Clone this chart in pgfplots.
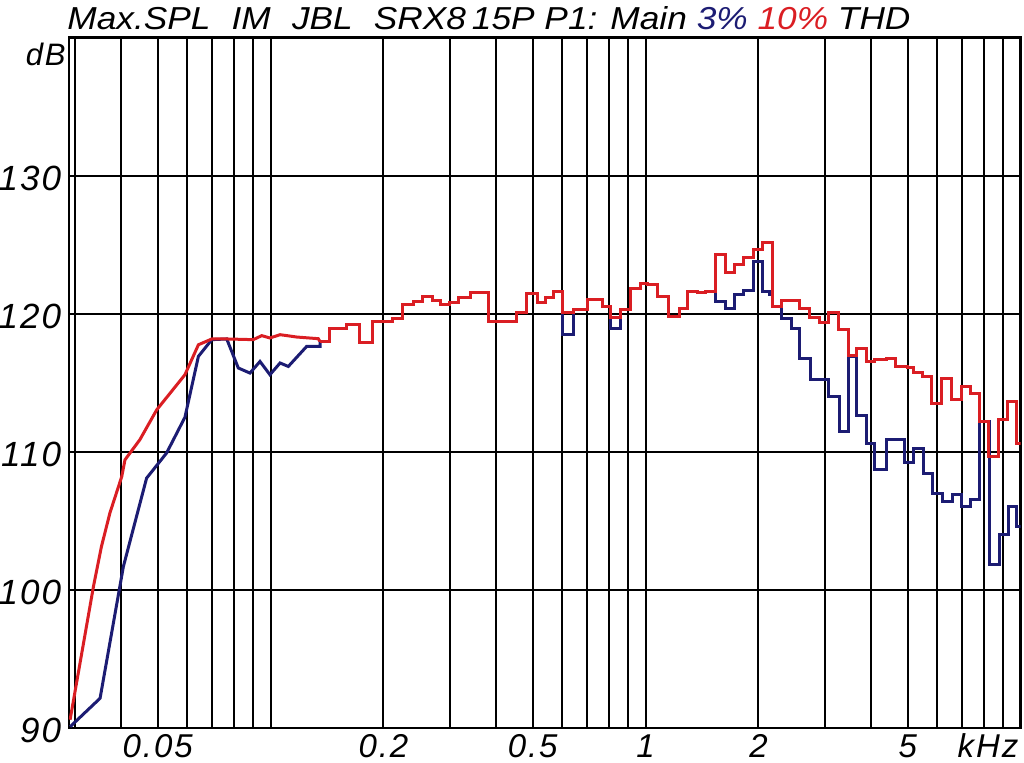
\documentclass[border=0pt]{standalone}
\usepackage{fontspec}
\setmainfont{Liberation Sans}
\usepackage{pgfplots}
\pgfplotsset{compat=1.18}
\definecolor{myred}{RGB}{218,30,35}
\definecolor{myblue}{RGB}{28,28,115}
\newfontfamily\lab[LetterSpace=6]{Liberation Sans}
\begin{document}
\begin{tikzpicture}
\useasboundingbox (-34.5pt,-17.5pt) rectangle (477.5pt,364pt);
\begin{axis}[at={(0,0)}, anchor=south west, scale only axis,
  width=475.8pt, height=345.25pt,
  xmode=log, xmin=0.029, xmax=10, ymin=90, ymax=140,
  xtick={0.03,0.04,0.05,0.06,0.07,0.08,0.09,0.1,0.2,0.3,0.4,0.5,0.6,0.7,0.8,0.9,1,2,3,4,5,6,7,8,9},
  xticklabels={,,0.05,,,,,,0.2,,,0.5,,,,,1,2,,,5,,,,},
  ytick={90,100,110,120,130}, yticklabels={90,100,110,120,130},
  major tick length=0pt, grid=major,
  major grid style={black, line width=1pt},
  axis line style={black, line width=1.2pt},
  xticklabel style={font=\lab\itshape\fontsize{16.5}{19}\selectfont, anchor=base, inner sep=0pt, yshift=-15pt},
  yticklabel style={font=\lab\itshape\fontsize{17.5}{20}\selectfont, anchor=base east, inner sep=0pt, xshift=-3.7pt, yshift=-7.5pt},
  line join=miter]
% 3% THD (blue)
\addplot[myblue, line width=1.5pt, sharp plot] coordinates {
(0.0292,90.09) (0.0351,92.15) (0.0405,101.69) (0.0467,108.09) (0.0528,109.91) (0.0591,112.5) (0.0642,116.91) (0.0697,118.12) (0.0764,118.17) (0.0820,116.07) (0.0881,115.7) (0.0937,116.54) (0.0996,115.58) (0.1060,116.43) (0.1115,116.18) (0.1248,117.63) (0.1355,117.63) (0.1355,117.99)
};
\addplot[myblue, line width=1.5pt, const plot] coordinates {
(0.1354,117.99) (0.1440,118.96) (0.1596,119.2) (0.1721,117.92) (0.1869,119.44) (0.2114,119.62) (0.2248,120.65) (0.2412,120.89) (0.2542,121.21) (0.2702,120.96) (0.2847,120.65) (0.3009,120.78) (0.3180,121.14) (0.3423,121.5) (0.3806,119.44) (0.4532,120.09) (0.4818,121.45) (0.5149,120.82) (0.5425,121.2) (0.5681,121.62) (0.6010,118.48) (0.6415,120.29) (0.7021,121.01) (0.7676,120.53) (0.8085,118.96) (0.8598,120.29) (0.9114,121.86) (0.9663,122.22) (1.0148,122.1) (1.0757,121.26) (1.1545,119.8) (1.2277,120.34) (1.2974,121.62) (1.3752,121.5) (1.4491,121.63) (1.5407,120.89) (1.6334,120.41) (1.7262,121.38) (1.8299,121.67) (1.9458,123.79) (2.0498,121.62) (2.1463,121.38) (2.1758,120.53) (2.2967,119.64) (2.4523,118.96) (2.5805,116.79) (2.7443,115.27) (3.0704,114.01) (3.2847,111.47) (3.4714,116.91) (3.6549,112.61) (3.8867,110.63) (4.0898,108.7) (4.3944,110.87) (4.9172,109.22) (5.1748,110.27) (5.5016,108.46) (5.8293,107.01) (6.1985,106.4) (6.5754,106.88) (6.9648,106.04) (7.3520,106.52) (7.7932,112.2) (8.2507,101.81) (8.7744,103.99) (9.2726,106.04) (9.7628,104.59) (10,104.59)
};
% 10% THD (red)
\addplot[myred, line width=1.5pt, sharp plot] coordinates {
(0.0292,90.6) (0.0337,100.24) (0.0354,103.14) (0.0373,105.58) (0.0401,108.21) (0.0409,109.42) (0.0448,110.87) (0.0497,113.04) (0.0591,115.58) (0.0642,117.75) (0.0697,118.17) (0.0764,118.17) (0.0899,118.12) (0.0947,118.41) (0.0996,118.24) (0.1060,118.48) (0.1174,118.31) (0.1340,118.19) (0.1354,117.99)
};
\addplot[myred, line width=1.5pt, const plot] coordinates {
(0.1354,117.99) (0.1440,118.96) (0.1596,119.2) (0.1721,117.92) (0.1869,119.44) (0.2114,119.62) (0.2248,120.65) (0.2412,120.89) (0.2542,121.21) (0.2702,120.96) (0.2847,120.65) (0.3009,120.78) (0.3180,121.14) (0.3423,121.5) (0.3806,119.44) (0.4532,120.09) (0.4818,121.45) (0.5149,120.82) (0.5425,121.2) (0.5681,121.62) (0.6010,120.07) (0.6415,120.29) (0.7021,121.01) (0.7676,120.53) (0.8085,119.69) (0.8598,120.29) (0.9114,121.86) (0.9663,122.22) (1.0148,122.1) (1.0757,121.26) (1.1545,119.8) (1.2277,120.34) (1.2974,121.62) (1.3752,121.5) (1.4491,121.63) (1.5407,124.28) (1.6334,122.95) (1.7262,123.55) (1.8299,124.04) (1.9458,124.64) (2.0498,125.17) (2.1758,120.53) (2.2967,120.98) (2.5727,120.41) (2.7360,119.69) (2.9086,119.33) (3.0704,120.05) (3.2651,118.89) (3.4714,116.96) (3.6549,117.45) (3.8867,116.54) (4.0655,116.67) (4.3944,116.72) (4.6249,116.18) (4.9785,116.07) (5.1748,115.75) (5.4590,115.46) (5.7927,113.53) (6.1714,115.34) (6.5506,113.82) (6.9648,114.73) (7.3520,114.25) (7.7932,112.2) (8.2261,109.66) (8.7476,112.32) (9.2280,113.64) (9.7628,110.58) (10,110.58)
};
\end{axis}
\node[anchor=base west, inner sep=0pt] at (-1pt,349pt) {\resizebox{421.5pt}{11.5pt}{\itshape Max.SPL\hspace{0.6em}IM\hspace{0.6em}JBL\hspace{0.6em}SRX8\,15P P1: Main \textcolor{myblue}{3\%} \textcolor{myred}{10\%} THD}};
\node[anchor=base east, inner sep=0pt] at (-1.5pt,331pt) {\lab\itshape\fontsize{15.5}{18}\selectfont dB};
\node[anchor=base, inner sep=0pt] at (459.5pt,-15pt) {\lab\itshape\fontsize{16.5}{19}\selectfont kHz};
\end{tikzpicture}
\end{document}
